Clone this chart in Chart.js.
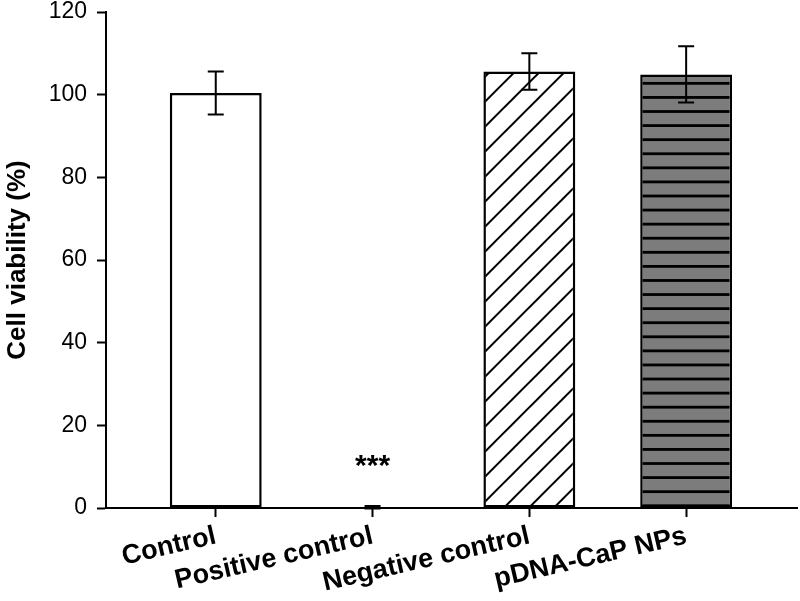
<!DOCTYPE html>
<html lang="en">
<head>
  <meta charset="UTF-8">
  <title>Cell viability</title>
  <style>
    html, body { margin: 0; padding: 0; background: #fff; }
    #chartContainer { width: 800px; height: 601px; }
  </style>
</head>
<body>
  <div id="chartContainer">
    <canvas id="myChart"></canvas>
  </div>

  <script src="https://cdn.jsdelivr.net/npm/chart.js@4.4.2/dist/chart.umd.min.js"></script>
  <script>
    // data
    const categories = ['Control', 'Positive control', 'Negative control', 'pDNA-CaP NPs'];
    const viability = [100.4, 0.2, 105.6, 104.9];
    const errors = [5.2, 0.3, 4.4, 6.8];
    const marks = ['', '***', '', ''];
    const yTicks = [0, 20, 40, 60, 80, 100, 120];

    const FONT = '"Liberation Sans", Arial, sans-serif';

    // diagonal hatch, white background
    function hatchPattern() {
      const c = document.createElement('canvas');
      c.width = 25; c.height = 25;
      const g = c.getContext('2d');
      g.fillStyle = '#fff';
      g.fillRect(0, 0, 25, 25);
      g.strokeStyle = '#000';
      g.lineWidth = 2;
      for (let k = -2; k <= 3; k++) {
        const s = 11.7 + k * 25; // x + y = s
        g.beginPath();
        g.moveTo(-10, s + 10);
        g.lineTo(s + 10, -10);
        g.stroke();
      }
      return g.createPattern(c, 'repeat');
    }

    // grey with horizontal black lines, 25 lines per 352px tile
    function stripePattern() {
      const c = document.createElement('canvas');
      c.width = 4; c.height = 352;
      const g = c.getContext('2d');
      g.fillStyle = '#7c7c7c';
      g.fillRect(0, 0, 4, 352);
      g.fillStyle = '#000';
      for (let k = -1; k <= 25; k++) {
        const y = 12.95 + k * 14.08;
        g.fillRect(0, y - 1.4, 4, 2.8);
      }
      return g.createPattern(c, 'repeat');
    }

    const fills = ['#fff', '#fff', hatchPattern(), stripePattern()];

    const errorBars = {
      id: 'errorBars',
      afterDatasetsDraw(chart) {
        const { ctx, scales: { x, y } } = chart;
        ctx.save();
        ctx.strokeStyle = '#000';
        ctx.lineWidth = 2;
        viability.forEach((v, i) => {
          const px = x.getPixelForValue(i);
          const top = y.getPixelForValue(v + errors[i]);
          const bot = y.getPixelForValue(v - errors[i]);
          ctx.beginPath();
          ctx.moveTo(px, top); ctx.lineTo(px, bot);
          ctx.moveTo(px - 8, top); ctx.lineTo(px + 8, top);
          ctx.moveTo(px - 8, bot); ctx.lineTo(px + 8, bot);
          ctx.stroke();
          if (marks[i]) {
            ctx.fillStyle = '#000';
            ctx.font = 'bold 30px ' + FONT;
            ctx.textAlign = 'center';
            ctx.textBaseline = 'alphabetic';
            ctx.fillText(marks[i], px, y.getPixelForValue(11.5) + 15);
          }
        });
        ctx.restore();
      }
    };

    const ctx = document.getElementById('myChart').getContext('2d');

    new Chart(ctx, {
      type: 'bar',
      data: {
        datasets: [{
          data: viability.map((v, i) => ({ x: i, y: v })),
          backgroundColor: fills,
          borderColor: '#000',
          borderWidth: 2.5,
          borderSkipped: false,
          categoryPercentage: 1,
          barPercentage: 0.586
        }]
      },
      options: {
        responsive: true,
        maintainAspectRatio: false,
        animation: false,
        devicePixelRatio: 1,
        layout: { padding: { top: 12, right: 3, left: 0, bottom: 0 } },
        plugins: {
          legend: { display: false },
          tooltip: { enabled: false }
        },
        scales: {
          x: {
            type: 'linear',
            min: -0.7,
            max: 3.707,
            offset: false,
            afterBuildTicks: (s) => { s.ticks = categories.map((_, i) => ({ value: i })); },
            afterFit: (s) => {
              s.height = 93;
              s.paddingLeft = 0; s.paddingRight = 0;
            },
            border: { display: true, color: '#000', width: 2 },
            grid: { offset: false, drawOnChartArea: false, tickLength: 9, tickWidth: 2, tickColor: '#000' },
            ticks: {
              autoSkip: false,
              minRotation: 13,
              maxRotation: 13,
              padding: 3,
              color: '#000',
              font: { family: FONT, size: 27, weight: 'bold' },
              callback: (v) => categories[v]
            }
          },
          y: {
            min: 0,
            max: 120,
            afterBuildTicks: (s) => { s.ticks = yTicks.map(v => ({ value: v })); },
            afterFit: (s) => {
              s.width = 106;
              s.paddingTop = 0; s.paddingBottom = 0;
            },
            border: { display: true, color: '#000', width: 2 },
            grid: { drawOnChartArea: false, tickLength: 9, tickWidth: 2, tickColor: '#000' },
            ticks: {
              padding: 10,
              color: '#000',
              font: { family: FONT, size: 23 }
            },
            title: {
              display: true,
              text: 'Cell viability (%)',
              color: '#000',
              font: { family: FONT, size: 26, weight: 'bold' },
              padding: { top: 2, bottom: 4 }
            }
          }
        }
      },
      plugins: [errorBars]
    });
  </script>
</body>
</html>
